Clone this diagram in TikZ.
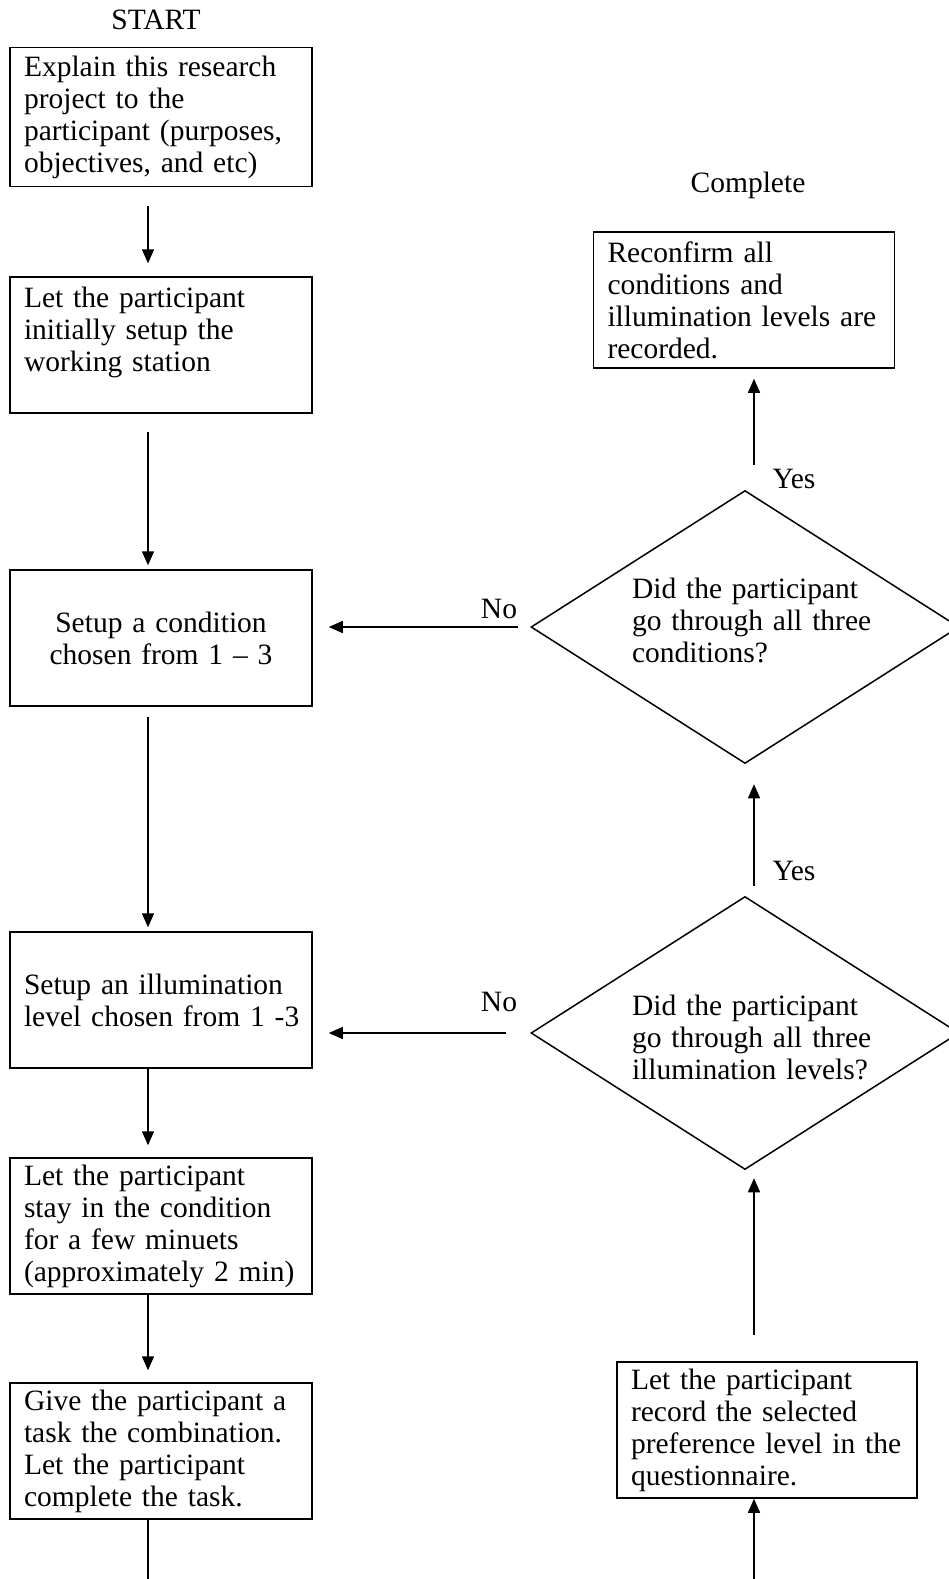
\documentclass[tikz,border=0pt]{standalone}
\usepackage{fontspec}
\setmainfont{Liberation Serif}
\usetikzlibrary{arrows.meta,positioning,shapes.geometric}

\begin{document}
\begin{tikzpicture}[x=1pt,y=-1pt,->,>={Triangle[length=14pt,width=12pt]},line width=1.5pt,
                      main node/.style={rectangle,draw,minimum width=302pt,minimum height=136pt,
                        inner xsep=14pt,text width=274pt,align=left,font=\fontsize{29.5}{32}\selectfont},
                      check node/.style={diamond,draw,minimum width=428pt,minimum height=273pt,inner sep=0pt},
                      check text/.style={inner sep=0pt,text width=250pt,align=left,font=\fontsize{29.5}{32}\selectfont},
                      skip node/.style={font=\fontsize{29.5}{32}\selectfont}]
    \useasboundingbox (0,0) rectangle (949,1579);

    % left column
    \node[skip node] (start) at (156,20) {START};
    \node[main node,minimum height=139pt] (explain) at (161,117) {Explain this research\\ project to the\\ participant (purposes,\\ objectives, and etc)};
    \node[main node] (station) at (161,345) {Let the participant\\ initially setup the\\ working station\\ \mbox{}};
    \node[main node,align=center] (cond) at (161,638) {Setup a condition\\ chosen from 1 -- 3};
    \node[main node] (illum) at (161,1000) {Setup an illumination\\ \mbox{level chosen from 1 -3}};
    \node[main node] (stay) at (161,1226) {Let the participant\\ stay in the condition\\ for a few minuets\\ (approximately 2 min)};
    \node[main node] (task) at (161,1451) {Give the participant a\\ task the combination.\\ Let the participant\\ complete the task.};

    % right column
    \node[skip node] (complete) at (748,185) {Complete};
    \node[main node,minimum width=301pt,text width=273pt] (confirm) at (744,300) {Reconfirm all\\ conditions and\\ illumination levels are\\ recorded.};
    \node[check node] (chk1) at (745,627) {};
    \node[check text] (chk1 txt) at (757,620) {Did the participant\\ go through all three\\ conditions?};
    \node[check node] (chk2) at (745,1033) {};
    \node[check text] (chk2 txt) at (757,1037) {Did the participant\\ go through all three\\ illumination levels?};
    \node[main node,minimum width=300pt,text width=272pt] (record) at (767,1430) {Let the participant\\ record the selected\\ preference level in the\\ questionnaire.};

    \node[skip node] (no1) at (499,609) {No};
    \node[skip node] (no2) at (499,1002) {No};
    \node[skip node] (yes1) at (794,479) {Yes};
    \node[skip node] (yes2) at (794,871) {Yes};

    \coordinate (loopL) at (148,1579);
    \coordinate (loopR) at (754,1579);

    \draw[shorten <=19pt,shorten >=13pt] ([xshift=-13pt]explain.south) -- ([xshift=-13pt]station.north);
    \draw[shorten <=18pt,shorten >=4pt] ([xshift=-13pt]station.south) -- ([xshift=-13pt]cond.north);
    \draw[shorten <=10pt,shorten >=4pt] ([xshift=-13pt]cond.south) -- ([xshift=-13pt]illum.north);
    \draw[shorten >=12pt] ([xshift=-13pt]illum.south) -- ([xshift=-13pt]stay.north);
    \draw[shorten >=12pt] ([xshift=-13pt]stay.south) -- ([xshift=-13pt]task.north);
    \draw[-] (task.south -| loopL) -- (loopL);

    \draw (loopR) -- (record.south -| loopR);
    \draw[shorten <=26pt,shorten >=8pt] (record.north -| loopR) -- (chk2.south -| loopR);
    \draw[shorten <=10pt,shorten >=20pt] (chk2.north -| loopR) -- (chk1.south -| loopR);
    \draw[shorten <=25pt,shorten >=10pt] (chk1.north -| loopR) -- (confirm.south -| loopR);

    \draw[shorten <=12pt,shorten >=16pt] (chk1.west) -- (chk1.west -| cond.east);
    \draw[shorten <=24pt,shorten >=16pt] (chk2.west) -- (chk2.west -| illum.east);

  \end{tikzpicture}
\end{document}
